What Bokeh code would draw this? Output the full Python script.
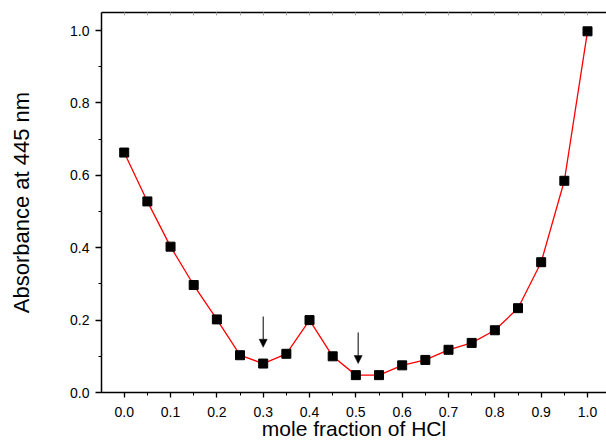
from bokeh.plotting import figure
from bokeh.models import (LinearAxis, SingleIntervalTicker, FixedTicker, Range1d, Arrow, NormalHead,
                          ColumnDataSource, PrintfTickFormatter)
from bokeh.embed import file_html
from bokeh.resources import INLINE

mole_fraction = [0.0, 0.05, 0.1, 0.15, 0.2, 0.25, 0.3, 0.35, 0.4, 0.45, 0.5,
                 0.55, 0.6, 0.65, 0.7, 0.75, 0.8, 0.85, 0.9, 0.95, 1.0]
absorbance = [0.663, 0.528, 0.403, 0.297, 0.202, 0.103, 0.080, 0.107, 0.200, 0.100, 0.048,
              0.048, 0.075, 0.090, 0.118, 0.137, 0.172, 0.233, 0.360, 0.585, 0.998]

arrow_x = [0.30, 0.505]
arrow_y_start = [0.21, 0.166]
arrow_y_end = [0.125, 0.080]

top_tick_positions = [i * 0.05 for i in range(22)]

FONT = "Liberation Sans"

p = figure(width=606, height=446, output_backend="svg", toolbar_location=None,
           x_range=Range1d(-0.049, 1.041), y_range=Range1d(0.0, 1.05),
           min_border_left=101, min_border_right=0, min_border_top=12, min_border_bottom=54,
           x_axis_label="mole fraction of HCl", y_axis_label="Absorbance at 445 nm")
p.outline_line_color = None
p.xgrid.grid_line_color = None
p.ygrid.grid_line_color = None
p.background_fill_color = "white"
p.border_fill_color = "white"

src = ColumnDataSource(dict(x=mole_fraction, y=absorbance))
p.line("x", "y", source=src, line_color="#ff0000", line_width=1.3)
p.scatter("x", "y", source=src, marker="square", size=9, fill_color="black", line_color="black")

for xa_, ys, ye in zip(arrow_x, arrow_y_start, arrow_y_end):
    p.add_layout(Arrow(end=NormalHead(size=8, fill_color="black", line_color="black", line_width=0.5),
                       x_start=xa_, y_start=ys, x_end=xa_, y_end=ye,
                       line_color="black", line_width=1))

xa = p.xaxis[0]
xa.ticker = SingleIntervalTicker(interval=0.1, num_minor_ticks=2)
ya = p.yaxis[0]
ya.ticker = SingleIntervalTicker(interval=0.2, num_minor_ticks=2)

for ax in (xa, ya):
    ax.formatter = PrintfTickFormatter(format="%.1f")
    ax.axis_line_width = 1.5
    ax.axis_line_color = "black"
    ax.major_tick_line_color = "black"
    ax.minor_tick_line_color = "black"
    ax.major_tick_line_width = 1.3
    ax.minor_tick_line_width = 1.0
    ax.major_tick_in = 0
    ax.minor_tick_in = 0
    ax.major_label_text_font = FONT
    ax.major_label_text_font_size = "14px"
    ax.major_label_text_color = "black"
    ax.axis_label_text_font = FONT
    ax.axis_label_text_font_style = "normal"
    ax.axis_label_text_color = "black"

xa.axis_label_text_font_size = "21px"
ya.axis_label_text_font_size = "22px"
xa.major_tick_out = 5
xa.minor_tick_out = 3
xa.major_label_standoff = 9
xa.axis_label_standoff = -3
ya.major_tick_out = 6
ya.minor_tick_out = 3
ya.major_label_standoff = 6
ya.axis_label_standoff = 33

top = LinearAxis(ticker=FixedTicker(ticks=[], minor_ticks=top_tick_positions))
top.axis_line_width = 1.5
top.axis_line_color = "black"
top.minor_tick_in = 3
top.minor_tick_out = 0
top.minor_tick_line_color = "#aaaaaa"
top.major_tick_line_color = None
top.major_label_standoff = 0
p.add_layout(top, "above")

open("out.html", "w").write(file_html(p, INLINE))
